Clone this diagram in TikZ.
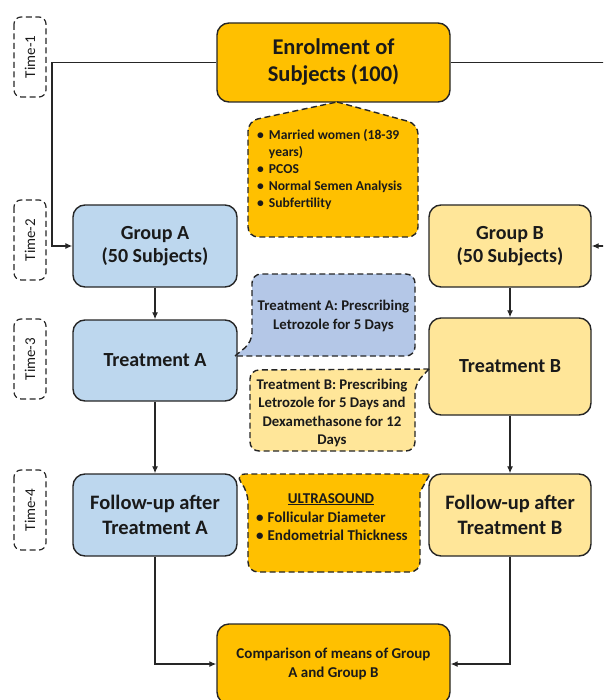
\documentclass[tikz,border=0pt]{standalone}
\usepackage{fontspec}
\setmainfont{Carlito}
\usetikzlibrary{arrows.meta}
\definecolor{orng}{HTML}{FFC000}
\definecolor{lblue}{HTML}{BDD7EE}
\definecolor{cblue}{HTML}{B4C7E7}
\definecolor{lyell}{HTML}{FFE699}
\definecolor{bordc}{HTML}{262626}
\definecolor{txtc}{HTML}{1A1A1A}
\begin{document}
\begin{tikzpicture}[x=1pt,y=-1pt,
  box/.style={draw=bordc, line width=1.4pt, rounded corners=12pt, inner sep=0pt, align=center, text=txtc},
  tbox/.style={draw=bordc, line width=1.2pt, dash pattern=on 6pt off 3.5pt, rounded corners=7pt, inner sep=0pt, rotate=90, minimum width=80pt, minimum height=32pt, text=txtc, font=\fontsize{15}{17}\selectfont},
  arr/.style={draw=bordc, line width=1.2pt, -{Latex[length=7pt,width=6pt]}},
  callout/.style={draw=bordc, line width=1.4pt, dash pattern=on 6pt off 3.5pt},
  ctext/.style={text=txtc, align=center, inner sep=0pt, font=\bfseries\fontsize{14.8}{18.5}\selectfont}
]
\clip (0,0) rectangle (603,700);
% Time labels
\node[tbox] (t1) at (30,57) {Time-1};
\node[tbox] (t2) at (30,240) {Time-2};
\node[tbox] (t3) at (30,359) {Time-3};
\node[tbox] (t4) at (30,510) {Time-4};
% main boxes
\node[box, fill=orng, minimum width=233pt, minimum height=79pt, font=\bfseries\fontsize{22.5}{27}\selectfont] (enrol) at (333.5,62.5) {Enrolment of\\Subjects (100)};
\node[box, fill=lblue, minimum width=164pt, minimum height=82pt, font=\bfseries\fontsize{20}{23}\selectfont] (groupA) at (155,246) {Group A\\(50 Subjects)};
\node[box, fill=lyell, minimum width=162pt, minimum height=82pt, font=\bfseries\fontsize{20}{23}\selectfont] (groupB) at (510,246) {Group B\\(50 Subjects)};
\node[box, fill=lblue, minimum width=164pt, minimum height=81pt, font=\bfseries\fontsize{20}{23}\selectfont] (treatA) at (155,360.5) {Treatment A};
\node[box, fill=lyell, minimum width=162pt, minimum height=97pt, font=\bfseries\fontsize{20}{23}\selectfont] (treatB) at (510,366.5) {Treatment B};
\node[box, fill=lblue, minimum width=164pt, minimum height=82pt, font=\bfseries\fontsize{20.5}{25}\selectfont] (followA) at (155,515) {Follow-up after\\Treatment A};
\node[box, fill=lyell, minimum width=162pt, minimum height=82pt, font=\bfseries\fontsize{20.5}{25}\selectfont] (followB) at (510,515) {Follow-up after\\Treatment B};
\node[box, fill=orng, minimum width=233pt, minimum height=80pt, font=\bfseries\fontsize{15}{19}\selectfont] (comp) at (333.5,664) {Comparison of means of Group\\A and Group B};
% connectors
\coordinate (L) at (52,0);
\coordinate (R) at (625,0);
\draw[arr] (enrol.west) -| (L |- groupA.west) -- (groupA.west);
\draw[arr] (enrol.east) -| (R |- groupB.east) -- (groupB.east);
\draw[arr] (groupA.south) -- (treatA.north);
\draw[arr] (groupB.south) -- (treatB.north);
\draw[arr] (treatA.south) -- (followA.north);
\draw[arr] (treatB.south) -- (followB.north);
\draw[arr] (followA.south) |- (comp.west);
\draw[arr] (followB.south) |- (comp.east);
% callouts
\draw[callout, fill=orng] (337,102) [rounded corners=10pt] -- (418,124) -- (418,237) -- (248,237) -- (248,121) [sharp corners] -- cycle;
\node[anchor=base west, inner sep=0pt, text=txtc, font=\bfseries\fontsize{13.6}{17}\selectfont] (crit) at (257,140) {\begin{tabular}[t]{@{}l@{\hspace{5pt}}l@{}}•&Married women (18-39\\&years)\\•&PCOS\\•&Normal Semen Analysis\\•&Subfertility\end{tabular}};
\draw[callout, fill=cblue] (235,356) [rounded corners=9pt] -- (252,342) -- (252,274) -- (415,274) -- (415,356) [sharp corners] -- cycle;
\node[ctext] (ctA) at (333.5,316) {Treatment A: Prescribing\\Letrozole for 5 Days};
\draw[callout, fill=lyell] (429,369) [rounded corners=9pt] -- (415,384) -- (415,451) -- (250,451) -- (250,370) [sharp corners] -- cycle;
\node[ctext] (ctB) at (332,413) {Treatment B: Prescribing\\Letrozole for 5 Days and\\Dexamethasone for 12\\Days};
\draw[callout, fill=orng] (333,572) [rounded corners=10pt] -- (248,572) -- (248,492) -- (235,474) [sharp corners] -- (430,474) -- (420,492) [rounded corners=10pt] -- (420,572) -- cycle;
\node[anchor=base, inner sep=0pt, text=txtc, font=\bfseries\fontsize{15}{18}\selectfont] (us) at (331,503) {\underline{ULTRASOUND}};
\node[anchor=base west, inner sep=0pt, text=txtc, font=\bfseries\fontsize{15}{18.5}\selectfont] (usl) at (256,522) {\begin{tabular}[t]{@{}l@{\hspace{4pt}}l@{}}•&Follicular Diameter\\•&Endometrial Thickness\end{tabular}};
\end{tikzpicture}
\end{document}
